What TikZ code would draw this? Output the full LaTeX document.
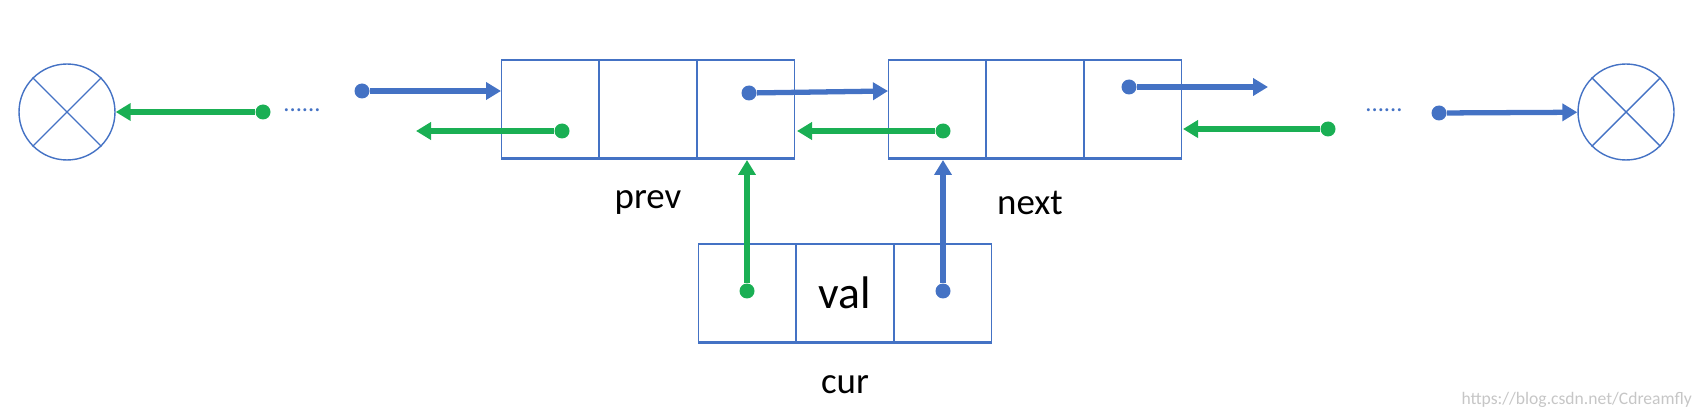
\documentclass[tikz,border=0pt]{standalone}
\usepackage{fontspec}
\setmainfont{Carlito}
\usetikzlibrary{arrows.meta,positioning}
\definecolor{lblue}{HTML}{4472C4}
\definecolor{lgreen}{HTML}{1AAF54}

\begin{document}
\begin{tikzpicture}[
    x=0.02cm, y=-0.02cm,
    font=\fontsize{21}{24}\selectfont,
    cell/.style={draw=lblue,line width=0.8pt,minimum width=1.94cm,minimum height=1.96cm,inner sep=0pt},
    nil/.style={circle,draw=lblue,line width=0.8pt,minimum size=1.92cm,inner sep=0pt},
    bdot/.style={circle,fill=lblue,inner sep=0pt,minimum size=0.3cm},
    gdot/.style={circle,fill=lgreen,inner sep=0pt,minimum size=0.3cm},
    barrow/.style={lblue,line width=3pt,-{Triangle[length=0.3cm,width=0.34cm]}},
    garrow/.style={lgreen,line width=3pt,-{Triangle[length=0.3cm,width=0.34cm]}},
    base/.style={lblue,line width=2pt}
]
\useasboundingbox (0,0) rectangle (1702,418);

% null ends
\node[nil] (L) at (67,112) {};
\draw[lblue,line width=0.8pt] (L.45) -- (L.225) (L.135) -- (L.315);
\node[nil] (R) at (1626,112) {};
\draw[lblue,line width=0.8pt] (R.45) -- (R.225) (R.135) -- (R.315);

% prev node
\node[cell] (p1) at (550,109) {};
\node[cell] (p2) at (648,109) {};
\node[cell] (p3) at (746,109) {};
\draw[base] (p1.south west) -- (p3.south east);
\node (prev) at (648,203) {prev};

% next node
\node[cell] (n1) at (937,109) {};
\node[cell] (n2) at (1035,109) {};
\node[cell] (n3) at (1133,109) {};
\draw[base] (n1.south west) -- (n3.south east);
\node (next) at (1030,203) {next};

% cur node
\node[cell] (c1) at (747,293) {};
\node[cell,font=\fontsize{26}{28}\selectfont] (c2) at (845,293) {val};
\node[cell] (c3) at (943,293) {};
\draw[base] (c1.south west) -- (c3.south east);
\node (cur) at (845,385) {cur};

% dots
\node[lblue,font=\fontsize{14}{16}\selectfont] (ldots) at (302,110) {......};
\node[lblue,font=\fontsize{14}{16}\selectfont] (rdots) at (1384,110) {......};

% pointers
\node[gdot] (g1) at (263,112) {};
\draw[garrow] (g1) -- (L);
\node[bdot] (b1) at (362,91) {};
\coordinate (pin) at (501,91);
\draw[barrow] (b1) -- (pin);
\node[gdot] (g2) at (562,131) {};
\coordinate (pout) at (416,131);
\draw[garrow] (g2) -- (pout);
\node[bdot] (b2) at (749,93) {};
\coordinate (nin) at (888,91);
\draw[barrow] (b2) -- (nin);
\node[gdot] (g3) at (943,131) {};
\coordinate (pback) at (797,131);
\draw[garrow] (g3) -- (pback);
\node[bdot] (b3) at (1129,87) {};
\coordinate (nout) at (1268,87);
\draw[barrow] (b3) -- (nout);
\node[gdot] (g4) at (1328,129) {};
\coordinate (nback) at (1183,129);
\draw[garrow] (g4) -- (nback);
\node[bdot] (b4) at (1439,113) {};
\draw[barrow] (b4) -- (R);

% cur pointers
\node[gdot] (g5) at (747,291) {};
\coordinate (pup) at (747,160);
\draw[garrow] (g5) -- (pup);
\node[bdot] (b5) at (943,291) {};
\coordinate (nup) at (943,160);
\draw[barrow] (b5) -- (nup);

\node[gray!45,font=\fontsize{10}{12}\selectfont,anchor=east] (mark) at (1698,400) {https://blog.csdn.net/Cdreamfly};
\end{tikzpicture}
\end{document}
